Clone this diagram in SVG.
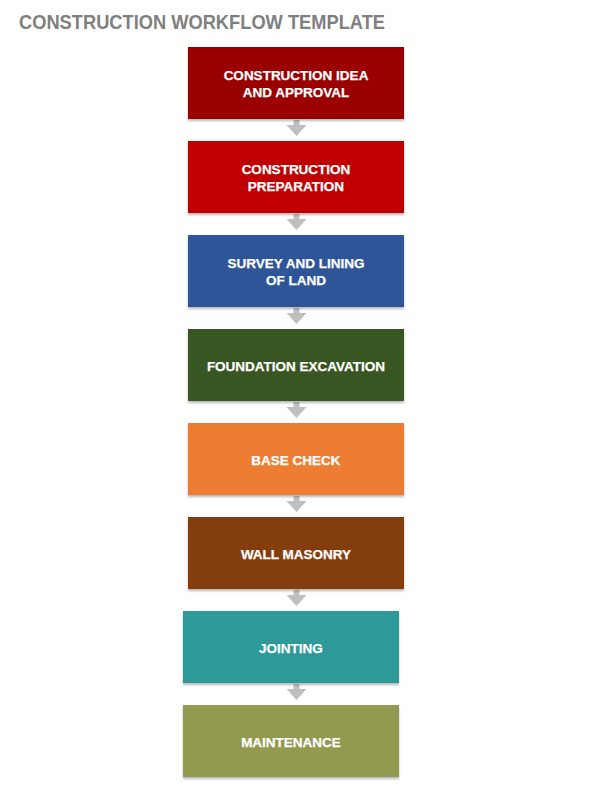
<svg xmlns="http://www.w3.org/2000/svg" width="608" height="812" viewBox="0 0 608 812">
  <style>
    .title { font-family: "Liberation Sans", Arial, sans-serif; font-weight: bold; font-size: 19.5px; fill: #7f7f7f; }
    .lbl { font-family: "Liberation Sans", Arial, sans-serif; font-weight: bold; font-size: 13.5px; fill: #ffffff; stroke: #ffffff; stroke-width: 0.25; text-anchor: middle; }
    .box { filter: url(#sh); }
    .arrow { fill: #bfbfbf; }
  </style>
  <defs>
    <filter id="sh" x="-5%" y="-10%" width="110%" height="130%">
      <feDropShadow dx="0" dy="2" stdDeviation="1.2" flood-color="#000000" flood-opacity="0.28"/>
    </filter>
    <path id="arr" d="M -3 0 H 3 V 5 H 10 L 0 16 L -10 5 H -3 Z"/>
  </defs>
  <rect width="608" height="812" fill="#ffffff"/>
  <text class="title" x="19" y="29" textLength="366" lengthAdjust="spacingAndGlyphs">CONSTRUCTION WORKFLOW TEMPLATE</text>

  <g id="connectors">
    <use href="#arr" class="arrow" x="296.5" y="120"/>
    <use href="#arr" class="arrow" x="296.5" y="214"/>
    <use href="#arr" class="arrow" x="296.5" y="308"/>
    <use href="#arr" class="arrow" x="296.5" y="402"/>
    <use href="#arr" class="arrow" x="296.5" y="496"/>
    <use href="#arr" class="arrow" x="296.5" y="590"/>
    <use href="#arr" class="arrow" x="296.5" y="684"/>
  </g>

  <g id="n1">
    <rect class="box" x="188" y="47" width="216" height="72" fill="#9a0000"/>
    <text class="lbl" x="296" y="80">CONSTRUCTION IDEA</text>
    <text class="lbl" x="296" y="97">AND APPROVAL</text>
  </g>
  <g id="n2">
    <rect class="box" x="188" y="141" width="216" height="72" fill="#c00000"/>
    <text class="lbl" x="296" y="174">CONSTRUCTION</text>
    <text class="lbl" x="296" y="191">PREPARATION</text>
  </g>
  <g id="n3">
    <rect class="box" x="188" y="235" width="216" height="72" fill="#2e5597"/>
    <text class="lbl" x="296" y="268">SURVEY AND LINING</text>
    <text class="lbl" x="296" y="285">OF LAND</text>
  </g>
  <g id="n4">
    <rect class="box" x="188" y="329" width="216" height="72" fill="#385723"/>
    <text class="lbl" x="296" y="371">FOUNDATION EXCAVATION</text>
  </g>
  <g id="n5">
    <rect class="box" x="188" y="423" width="216" height="72" fill="#ed7d31"/>
    <text class="lbl" x="296" y="465">BASE CHECK</text>
  </g>
  <g id="n6">
    <rect class="box" x="188" y="517" width="216" height="72" fill="#843c0c"/>
    <text class="lbl" x="296" y="559">WALL MASONRY</text>
  </g>
  <g id="n7">
    <rect class="box" x="183" y="611" width="216" height="72" fill="#2e9999"/>
    <text class="lbl" x="291" y="653">JOINTING</text>
  </g>
  <g id="n8">
    <rect class="box" x="183" y="705" width="216" height="72" fill="#939a50"/>
    <text class="lbl" x="291" y="747">MAINTENANCE</text>
  </g>
</svg>
